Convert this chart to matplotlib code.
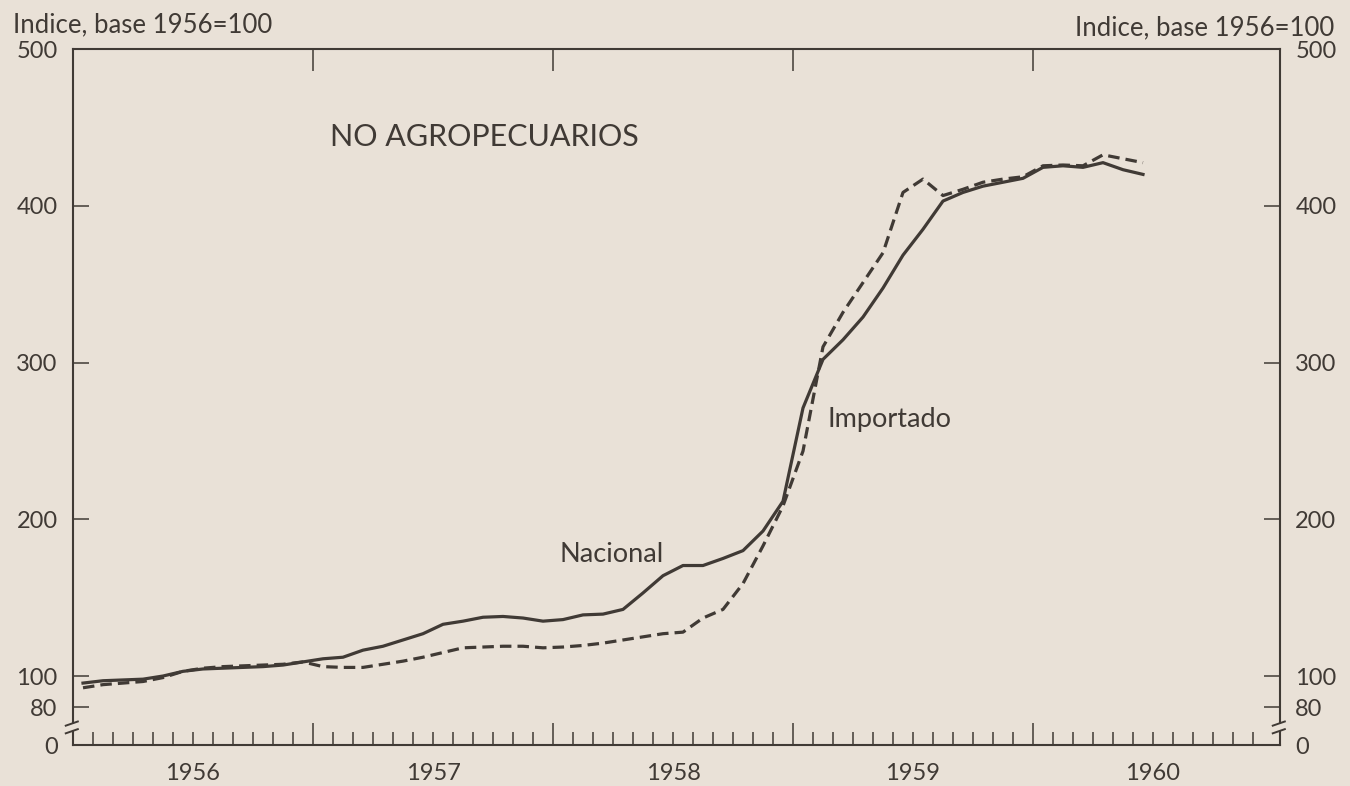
import numpy as np
import matplotlib
matplotlib.use("Agg")
import matplotlib.pyplot as plt

# indices mensuales, ene 1956 - jun 1960 (base 1956=100)
nacional = [95.5, 97, 97.5, 98, 100, 103, 104.5, 105, 105.5, 106, 107, 109,
            111, 112, 116.5, 119, 123, 127, 133, 135, 137.5, 138, 137, 135,
            136, 139, 139.5, 142.5, 153, 164, 170.5, 170.5, 175, 180, 192.5, 211.5,
            271, 302, 314.5, 329, 347.5, 368.5, 385, 403, 408.5, 412.5, 415, 417.5,
            424.5, 425.5, 424.5, 427.5, 423, 420]
importado = [92.5, 94.5, 95.5, 96.5, 99, 103, 105, 106, 106.5, 107, 107.5, 109,
             106, 105.5, 105.5, 107.5, 109.5, 112, 115, 118, 118.5, 119, 119, 118,
             118.5, 119.5, 121, 123, 125, 127, 128, 137, 142.5, 159, 183, 208.5,
             243.5, 310, 332, 351, 370, 408.5, 417, 406.5, 410.5, 415, 417, 418.5,
             425.5, 426, 425.5, 432.5, 430, 427.5]
anios = ["1956", "1957", "1958", "1959", "1960"]
y_ticks = [80, 100, 200, 300, 400, 500]

BG = "#e9e1d7"
INK = "#403a35"
plt.rcParams["font.family"] = ["Lato", "DejaVu Sans"]

fig = plt.figure(figsize=(13.5, 7.86), dpi=100)
fig.patch.set_facecolor(BG)
ax = fig.add_axes([73 / 1350, 1 - 745 / 786, 1207 / 1350, 696 / 786])
ax.set_facecolor(BG)

meses = np.arange(len(nacional)) + 0.5
ax.plot(meses, nacional, color=INK, lw=2.3, solid_joinstyle="round")
ax.plot(meses, importado, color=INK, lw=2.3, dashes=(3.6, 1.9))

ymin = 56
ax.set_ylim(ymin, 500)
ax.set_xlim(0, 12 * len(anios) + 0.35)

for s in ax.spines.values():
    s.set_color(INK)
    s.set_linewidth(1.5)

# eje y (ambos lados)
ax.set_yticks([ymin] + y_ticks)
ax.set_yticklabels(["0"] + [str(v) for v in y_ticks])
ax.tick_params(axis="y", which="major", direction="in", length=11.5, width=1.1,
               color=INK, labelcolor=INK, labelsize=17, left=True, right=True,
               labelleft=True, labelright=True, pad=11)
t0 = ax.yaxis.get_major_ticks()[0]
t0.tick1line.set_visible(False)
t0.tick2line.set_visible(False)

# eje x: meses y anios
ax.set_xticks([12, 24, 36, 48])
ax.set_xticks([m for m in range(1, 60) if m % 12], minor=True)
ax.tick_params(axis="x", which="major", direction="in", length=16, width=1.1,
               color=INK, labelbottom=False, top=True, bottom=True)
ax.tick_params(axis="x", which="minor", direction="in", length=9.5, width=1.1,
               color=INK, top=False)
for i, a in enumerate(anios):
    ax.annotate(a, xy=(12 * i + 6, 0), xycoords=("data", "axes fraction"),
                xytext=(0, -29), textcoords="offset pixels", ha="center",
                va="center", fontsize=17, color=INK)

# cortes del eje
yb = (67 - ymin) / (500 - ymin)
for xs in (0, 1):
    ax.add_patch(plt.Rectangle((xs - 0.004, yb - 0.004), 0.008, 0.009,
                               transform=ax.transAxes, facecolor=BG,
                               edgecolor="none", clip_on=False, zorder=5))
    for dy in (-0.005, 0.006):
        ax.plot([xs - 0.006, xs + 0.004], [yb + dy - 0.003, yb + dy + 0.003],
                transform=ax.transAxes, color=INK, lw=1.4, clip_on=False, zorder=6)

fig.text(13 / 1350, 1 - 25 / 786, "Indice, base 1956=100", fontsize=18.5,
         color=INK, va="center", ha="left")
fig.text(1334 / 1350, 1 - 28 / 786, "Indice, base 1956=100", fontsize=18.5,
         color=INK, va="center", ha="right")
fig.text(330 / 1350, 1 - 137 / 786, "NO AGROPECUARIOS", fontsize=22,
         color=INK, va="center", ha="left")
fig.text(559 / 1350, 1 - 554 / 786, "Nacional", fontsize=19.5,
         color=INK, va="center", ha="left")
fig.text(828 / 1350, 1 - 419 / 786, "Importado", fontsize=19.5,
         color=INK, va="center", ha="left")

fig.savefig("out.png", dpi=100, facecolor=BG)
